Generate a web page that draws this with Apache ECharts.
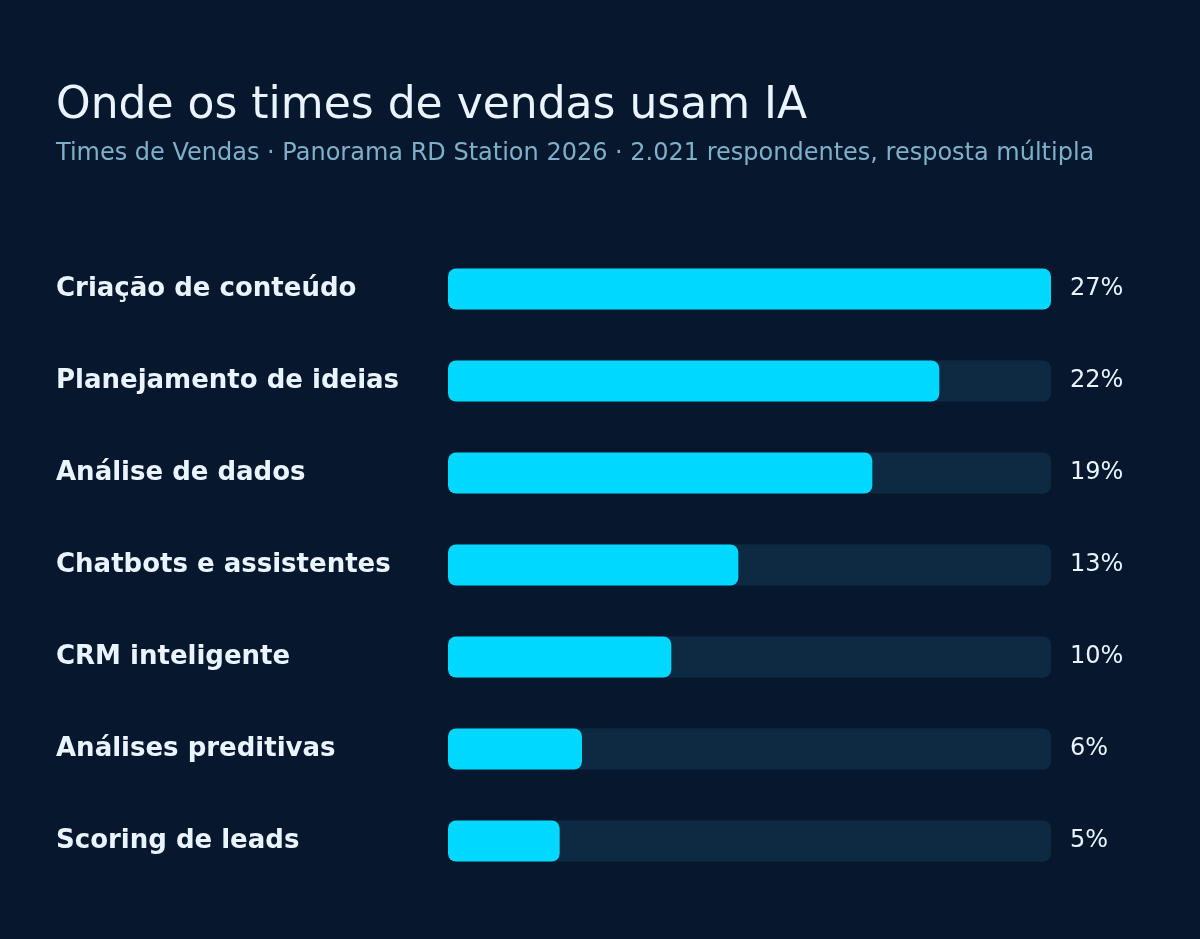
<!DOCTYPE html>
<html>
<head>
<meta charset="utf-8">
<script src="https://cdn.jsdelivr.net/npm/echarts@6/dist/echarts.min.js"></script>
<style>
html, body { margin: 0; padding: 0; background: #07182e; }
#chart { width: 1200px; height: 939px; }
</style>
</head>
<body>
<div id="chart"></div>
<script>
// dados
var categories = ['Criação de conteúdo', 'Planejamento de ideias', 'Análise de dados',
    'Chatbots e assistentes', 'CRM inteligente', 'Análises preditivas', 'Scoring de leads'];
var values = [27, 22, 19, 13, 10, 6, 5];
var maxValue = 27;
var trackValues = categories.map(function () { return maxValue; });

var myChart = echarts.init(document.getElementById('chart'));
var option = {
    backgroundColor: '#07182e',
    title: {
        text: 'Onde os times de vendas usam IA',
        subtext: 'Times de Vendas · Panorama RD Station 2026 · 2.021 respondentes, resposta múltipla',
        left: 56,
        top: 85,
        itemGap: 13,
        padding: 0,
        textStyle: {
            fontFamily: 'DejaVu Sans',
            fontSize: 44,
            fontWeight: 'normal',
            color: '#eaf4ff'
        },
        subtextStyle: {
            fontFamily: 'DejaVu Sans',
            fontSize: 24,
            color: '#7fb0c8'
        }
    },
    grid: {
        left: 448,
        right: 149,
        top: 243,
        bottom: 52
    },
    xAxis: {
        type: 'value',
        min: 0,
        max: maxValue,
        show: false
    },
    yAxis: {
        type: 'category',
        data: categories,
        inverse: true,
        axisLine: { show: false },
        axisTick: { show: false },
        splitLine: { show: false },
        axisLabel: {
            align: 'left',
            margin: 392,
            fontFamily: 'DejaVu Sans',
            fontSize: 26,
            fontWeight: 'bold',
            color: '#eaf4ff',
            padding: [0, 0, 6, 0]
        }
    },
    series: [
        {
            // trilho
            type: 'bar',
            data: trackValues,
            barWidth: 41,
            silent: true,
            itemStyle: { color: '#0e2a42', borderRadius: 8 },
            label: {
                show: true,
                position: 'right',
                distance: 19,
                fontFamily: 'DejaVu Sans',
                fontSize: 24,
                color: '#eaf4ff',
                formatter: function (p) { return values[p.dataIndex] + '%'; }
            }
        },
        {
            type: 'bar',
            data: values,
            barWidth: 41,
            barGap: '-100%',
            itemStyle: { color: '#00d8ff', borderRadius: 8 }
        }
    ]
};
if (option && typeof option === "object") {
    myChart.setOption(option, true);
}
</script>
</body>
</html>
